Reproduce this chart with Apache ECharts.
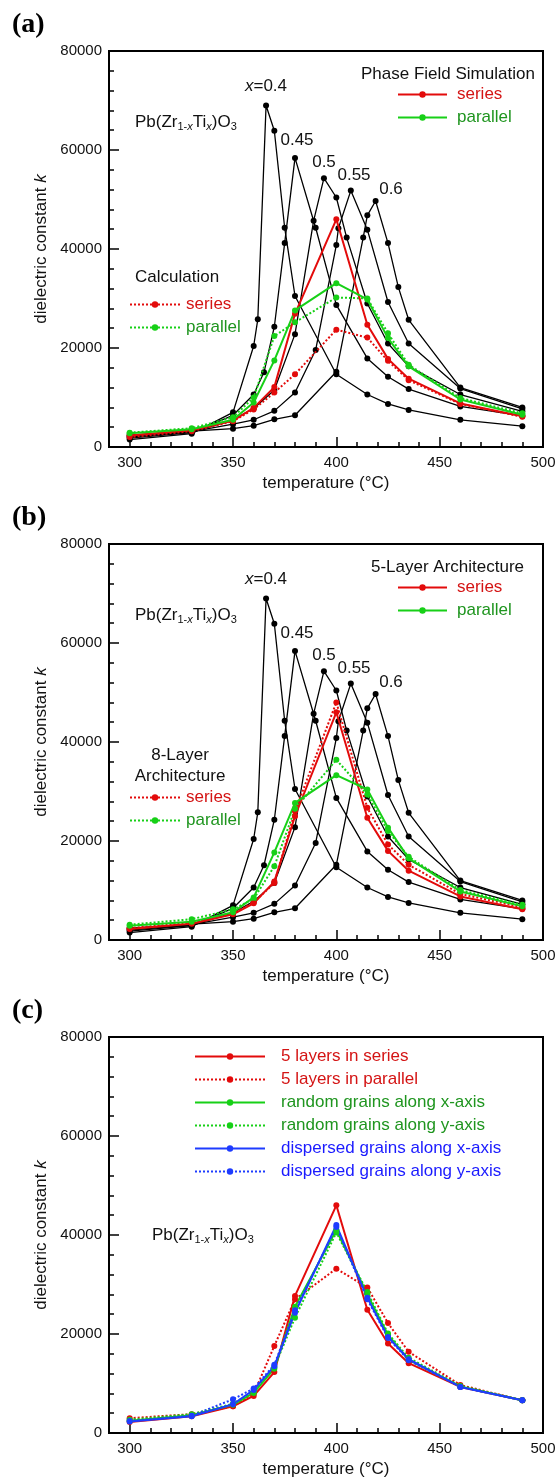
<!DOCTYPE html>
<html>
<head>
<meta charset="utf-8">
<script src="https://cdn.jsdelivr.net/npm/echarts@6/dist/echarts.min.js"></script>
<style>html,body{margin:0;padding:0;background:#fff;}#c{width:559px;height:1481px;}</style>
</head>
<body>
<div id="c"></div>
<script>
// ---------- data ----------
const tempCalc = [300,330,350,360,370,380,400,415,425,435,460,490];
const xTickLabels = [300,350,400,450,500];

// experimental PZT curves (black)
const x04T = [300,330,350,360,362,366,370,375,380,400,415,425,435,460,490];
const x04V = [1500,2700,7000,20400,25800,69000,63900,44300,30500,14700,10600,8700,7500,5500,4200];
const x045T = [300,330,350,360,365,370,375,380,390,400,415,425,435,460,490];
const x045V = [1800,2900,6400,10600,15100,24300,41200,58400,44300,28700,17900,14200,11700,8200,6300];
const x05T = [300,330,350,360,370,380,389,394,400,405,415,425,435,460,490];
const x05V = [2000,3000,5500,7800,11500,22800,45700,54300,50400,42300,29000,20900,16300,10600,7200];
const x055T = [300,330,350,360,370,380,390,400,401,407,415,425,435,460,490];
const x055V = [2200,3100,4600,5500,7300,11000,19600,40800,44200,51800,43900,29300,20900,11800,7700];
const x06T = [300,330,350,360,370,380,400,413,415,419,425,430,435,460,490];
const x06V = [2400,3200,3700,4300,5600,6400,15200,42300,46800,49700,41200,32300,25700,12000,8000];

// panel (a)
const pfSeriesA = [2300,3400,5300,7900,12100,26900,46000,24700,17800,13800,8800,6200];
const pfParallelA = [2800,3600,5500,9000,17500,27600,33100,29800,22000,16300,9600,6500];
const calcSeriesA = [2000,3200,5200,7600,11000,14700,23700,22100,17400,13500,8700,6100];
const calcParallelA = [2900,3800,6000,10000,22400,25200,30200,30000,23000,16600,9900,6800];
// panel (b)
const s5B = [2200,3300,5200,7400,11800,25000,46000,24700,18000,14000,8800,6200];
const p5B = [2900,3700,5600,8600,17700,27700,33300,30400,22700,16500,9800,6800];
const s8B = [2400,3500,5400,7600,11500,26000,48000,26700,19300,15200,9300,6600];
const p8B = [3100,4200,6200,8300,14900,26500,36400,29400,22000,16800,10100,7100];
// panel (c)
const c5S = [2200,3400,5400,7500,12300,27700,46000,24900,18100,14100,9300,6600];
const c5P = [3000,3800,5400,7900,17600,27000,33200,29400,22200,16400,9700,6600];
const cRX = [2500,3600,5700,8100,13000,25500,41000,28000,19800,14800,9400,6600];
const cRY = [2700,3800,5900,8400,13300,23300,40500,28500,20100,15200,9500,6600];
const cDX = [2300,3400,5800,8700,13500,24300,42000,27300,19400,14900,9300,6600];
const cDY = [2400,3500,6800,9000,13800,24800,41600,27000,19200,14700,9300,6600];

// ---------- styling ----------
const RED = '#e30b0b', GREEN = '#17d017', BLUE = '#1e3cff';
const RED_T = '#d41414', GREEN_T = '#1f951f', BLUE_T = '#1a1aff';
const FONT = 'Liberation Sans';
const PANEL_DY = 493;

const chart = echarts.init(document.getElementById('c'), null, {renderer:'canvas', width:559, height:1481});

const grids = [], xAxes = [], yAxes = [], series = [], legends = [], graphics = [];

for (let g = 0; g < 3; g++) {
  grids.push({left:109, width:434, top:51 + PANEL_DY*g, height:396, show:true, borderColor:'#000', borderWidth:2, backgroundColor:'transparent'});
  xAxes.push({gridIndex:g, type:'value', min:290, max:500, interval:10,
    axisLine:{show:true, lineStyle:{color:'#000', width:2}},
    axisTick:{inside:true, length:5, lineStyle:{color:'#000', width:1.5}},
    axisLabel:{formatter:v => (xTickLabels.indexOf(v) >= 0 ? String(v) : ''), fontSize:15, color:'#111', margin:8, fontFamily:FONT},
    splitLine:{show:false},
    name:'temperature (°C)', nameLocation:'middle', nameGap:28,
    nameTextStyle:{fontSize:17, color:'#111', fontFamily:FONT}});
  xAxes.push({gridIndex:g, type:'value', min:290, max:500, position:'bottom',
    axisLine:{show:false},
    axisTick:{show:true, inside:true, length:10, customValues:xTickLabels, lineStyle:{color:'#000', width:1.5}},
    axisLabel:{show:false}, splitLine:{show:false}});
  yAxes.push({gridIndex:g, type:'value', min:0, max:80000, interval:20000,
    axisLine:{show:true, lineStyle:{color:'#000', width:2}},
    axisTick:{inside:true, length:10, lineStyle:{color:'#000', width:1.5}},
    minorTick:{show:true, splitNumber:5, length:5, lineStyle:{color:'#000', width:1.5}},
    axisLabel:{formatter:v => String(v), fontSize:15, color:'#111', margin:7, fontFamily:FONT},
    splitLine:{show:false}, minorSplitLine:{show:false},
    name:'{n|dielectric constant }{k|k}', nameLocation:'middle', nameGap:56, nameRotate:90,
    nameTextStyle:{rich:{n:{fontSize:17, color:'#111', fontFamily:FONT}, k:{fontSize:17, color:'#111', fontStyle:'italic', fontFamily:FONT}}}});
}

function blackSeries(name, T, V, g) {
  return {name:name, type:'line', xAxisIndex:2*g, yAxisIndex:g, data:T.map((t,i) => [t, V[i]]),
    symbol:'circle', symbolSize:6, showSymbol:true, silent:true, z:2,
    lineStyle:{color:'#000', width:1.3}, itemStyle:{color:'#000'}};
}
function colSeries(name, V, color, dotted, g) {
  return {name:name, type:'line', xAxisIndex:2*g, yAxisIndex:g, data:tempCalc.map((t,i) => [t, V[i]]),
    symbol:'circle', symbolSize:6, showSymbol:true, silent:true, z:3,
    lineStyle:{color:color, width:2, type: dotted ? [2,2] : 'solid'}, itemStyle:{color:color}};
}

for (let g = 0; g < 2; g++) {
  series.push(blackSeries('x04_'+g, x04T, x04V, g));
  series.push(blackSeries('x045_'+g, x045T, x045V, g));
  series.push(blackSeries('x05_'+g, x05T, x05V, g));
  series.push(blackSeries('x055_'+g, x055T, x055V, g));
  series.push(blackSeries('x06_'+g, x06T, x06V, g));
}
// panel (a)
series.push(colSeries('a_calc_series', calcSeriesA, RED, true, 0));
series.push(colSeries('a_calc_parallel', calcParallelA, GREEN, true, 0));
series.push(colSeries('a_pf_series', pfSeriesA, RED, false, 0));
series.push(colSeries('a_pf_parallel', pfParallelA, GREEN, false, 0));
// panel (b)
series.push(colSeries('b_8_series', s8B, RED, true, 1));
series.push(colSeries('b_8_parallel', p8B, GREEN, true, 1));
series.push(colSeries('b_5_series', s5B, RED, false, 1));
series.push(colSeries('b_5_parallel', p5B, GREEN, false, 1));
// panel (c)
const cNames = ['5 layers in series','5 layers in parallel','random grains along x-axis','random grains along y-axis','dispersed grains along x-axis','dispersed grains along y-axis'];
const cData = [c5S, c5P, cRX, cRY, cDX, cDY];
const cColors = [RED, RED, GREEN, GREEN, BLUE, BLUE];
const cTextColors = [RED_T, RED_T, GREEN_T, GREEN_T, BLUE_T, BLUE_T];
const cDotted = [false, true, false, true, false, true];
cNames.forEach((n,i) => series.push(colSeries(n, cData[i], cColors[i], cDotted[i], 2)));

const shortLabel = n => n.endsWith('_series') ? 'series' : (n.endsWith('_parallel') ? 'parallel' : n);

function mkLegend(names, colors, left, top, itemWidth, textPad) {
  return {show:true, orient:'vertical', left:left, top:top, padding:0, itemGap:6,
    itemWidth:itemWidth, itemHeight:8, selectedMode:false,
    formatter: name => shortLabel(name),
    textStyle:{fontSize:17, fontFamily:FONT, padding:[0,0,0,textPad]},
    data: names.map((n,i) => ({name:n, textStyle:{color:colors[i]}}))};
}
legends.push(mkLegend(['a_pf_series','a_pf_parallel'], [RED_T, GREEN_T], 397, 86, 49, 5));
legends.push(mkLegend(['a_calc_series','a_calc_parallel'], [RED_T, GREEN_T], 129, 296, 50, 1));
legends.push(mkLegend(['b_5_series','b_5_parallel'], [RED_T, GREEN_T], 397, 86+PANEL_DY, 49, 5));
legends.push(mkLegend(['b_8_series','b_8_parallel'], [RED_T, GREEN_T], 129, 789, 50, 1));
legends.push(mkLegend(cNames, cTextColors, 194, 1048, 70, 11));

// ---------- annotations ----------
function txt(text, x, y, opts) {
  return Object.assign({type:'text', x:x, y:y, silent:true,
    style:Object.assign({text:text, fill:'#111', font:'17px "' + FONT + '"', textAlign:'left', textVerticalAlign:'middle'}, opts || {})});
}
const pztRich = {
  n:{fontSize:17, fontFamily:FONT, fill:'#111', lineHeight:20},
  s:{fontSize:11, fontFamily:FONT, fill:'#111', lineHeight:6, verticalAlign:'bottom'},
  si:{fontSize:11, fontFamily:FONT, fill:'#111', fontStyle:'italic', lineHeight:6, verticalAlign:'bottom'}
};
const pztText = '{n|Pb(Zr}{s|1-}{si|x}{n|Ti}{si|x}{n|)O}{s|3}';
const xRich = {i:{fontSize:17, fontFamily:FONT, fontStyle:'italic', fill:'#111'}, n:{fontSize:17, fontFamily:FONT, fill:'#111'}};
const panelLabels = ['(a)','(b)','(c)'];
for (let g = 0; g < 3; g++) {
  const dy = PANEL_DY * g;
  graphics.push(txt(panelLabels[g], 12, 25 + dy, {font:'bold 28px "Liberation Serif"', fill:'#000'}));
}
for (let g = 0; g < 2; g++) {
  const dy = PANEL_DY * g;
  graphics.push(txt('{i|x}{n|=0.4}', 266, 86 + dy, {rich:xRich, textAlign:'center'}));
  graphics.push(txt('0.45', 297, 140 + dy, {textAlign:'center'}));
  graphics.push(txt('0.5', 324, 162 + dy, {textAlign:'center'}));
  graphics.push(txt('0.55', 354, 175 + dy, {textAlign:'center'}));
  graphics.push(txt('0.6', 391, 189 + dy, {textAlign:'center'}));
  graphics.push(txt(pztText, 135, 122 + dy, {rich:pztRich}));
}
graphics.push(txt('Phase Field Simulation', 361, 74));
graphics.push(txt('Calculation', 135, 277));
graphics.push(txt('5-Layer Architecture', 371, 74 + PANEL_DY));
graphics.push(txt('8-Layer', 180, 755, {textAlign:'center'}));
graphics.push(txt('Architecture', 180, 776, {textAlign:'center'}));
graphics.push(txt(pztText, 152, 1235, {rich:pztRich}));

chart.setOption({
  animation:false,
  backgroundColor:'#fff',
  textStyle:{fontFamily:FONT},
  grid:grids, xAxis:xAxes, yAxis:yAxes, series:series, legend:legends, graphic:graphics
});
</script>
</body>
</html>
